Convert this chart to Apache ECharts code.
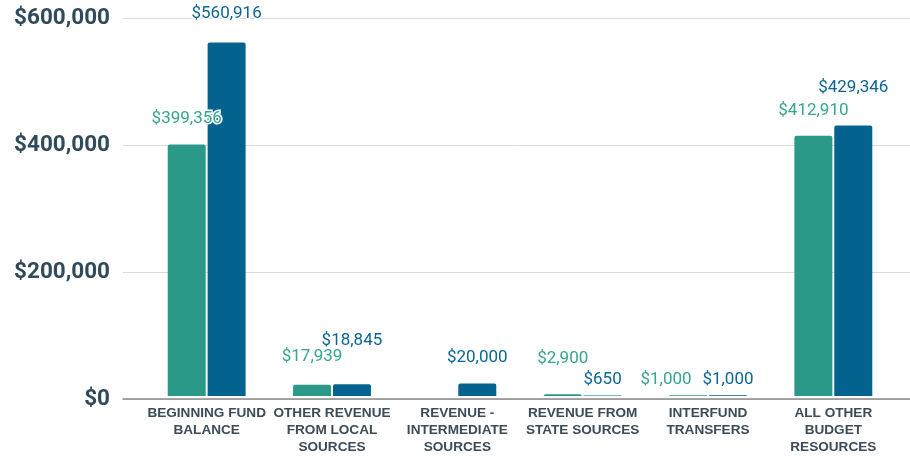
<!DOCTYPE html>
<html>
<head>
<meta charset="utf-8">
<title>Budget resources</title>
<script src="https://cdn.jsdelivr.net/npm/echarts@6/dist/echarts.min.js"></script>
<style>
  html, body { margin: 0; padding: 0; background: #fff; }
  #chart { width: 910px; height: 456px; }
</style>
</head>
<body>
<div id="chart"></div>
<script>
// categories and values
const categories = [
  'BEGINNING FUND\nBALANCE',
  'OTHER REVENUE\nFROM LOCAL\nSOURCES',
  'REVENUE -\nINTERMEDIATE\nSOURCES',
  'REVENUE FROM\nSTATE SOURCES',
  'INTERFUND\nTRANSFERS',
  'ALL OTHER\nBUDGET\nRESOURCES'
]
const tealValues = [399356, 17939, 0, 2900, 1000, 412910]
const blueValues = [560916, 18845, 20000, 650, 1000, 429346]
const yTicks = [0, 200000, 400000, 600000]

// label placement (the source staggers labels to avoid collisions)
const tealLift = [17, 19, 0, 27, 7, 17]
const blueLift = [20, 35, 17, 7, 7, 29]
const tealShift = [0, 0, 0, 0, -22, 0]

const TEAL = '#2a9988'
const BLUE = '#04628f'

const money = v => '$' + Number(v).toLocaleString('en-US')

function buildData(values, lift, shift) {
  return values.map((v, i) => ({
    value: v,
    label: { distance: lift[i], offset: [shift ? shift[i] : 0, 0] }
  }))
}

function barLabel(color) {
  return {
    show: true,
    position: 'top',
    color: color,
    fontFamily: 'Roboto',
    fontSize: 17,
    textBorderColor: '#fff',
    textBorderWidth: 3,
    formatter: p => (p.value ? money(p.value) : '')
  }
}

const chart = echarts.init(document.getElementById('chart'), null, { renderer: 'canvas' })

const yMin = yTicks[0]
const yMax = yTicks[yTicks.length - 1]
const yStep = yTicks[1] - yTicks[0]

const option = {
  animation: false,
  grid: [
    // grid 0: gridlines, y labels and axis line across the full width
    { left: 123, right: 0, top: 18, bottom: 57 },
    // grid 1: the bars
    { left: 144, right: 14, top: 18, bottom: 57 }
  ],
  xAxis: [
    {
      gridIndex: 0,
      type: 'category',
      data: [''],
      axisLine: { show: true, lineStyle: { color: '#8a8a8a', width: 1.5 } },
      axisTick: { show: false },
      axisLabel: { show: false }
    },
    {
      gridIndex: 1,
      type: 'category',
      data: categories,
      axisLine: { show: false },
      axisTick: { show: false },
      axisLabel: {
        interval: 0,
        margin: 9,
        color: '#3b4b57',
        fontFamily: 'Liberation Sans',
        fontWeight: 'bold',
        fontSize: 13.6,
        lineHeight: 17,
        align: 'center'
      }
    }
  ],
  yAxis: [
    {
      gridIndex: 0,
      type: 'value',
      min: yMin,
      max: yMax,
      interval: yStep,
      axisLine: { show: false },
      axisTick: { show: false },
      splitLine: { lineStyle: { color: '#dadada', width: 1 } },
      axisLabel: {
        margin: 13,
        color: '#2f4a5b',
        fontFamily: 'Roboto',
        fontWeight: 'bold',
        fontSize: 22.5,
        formatter: v => money(v)
      }
    },
    {
      gridIndex: 1,
      type: 'value',
      min: yMin,
      max: yMax,
      interval: yStep,
      show: false
    }
  ],
  series: [
    {
      name: 'Teal',
      type: 'bar',
      xAxisIndex: 1,
      yAxisIndex: 1,
      data: buildData(tealValues, tealLift, tealShift),
      barWidth: 38,
      barGap: '5%',
      itemStyle: { color: TEAL, borderRadius: [2, 2, 0, 0] },
      label: barLabel('#35a58e'),
      z: 3
    },
    {
      name: 'Blue',
      type: 'bar',
      xAxisIndex: 1,
      yAxisIndex: 1,
      data: buildData(blueValues, blueLift),
      barWidth: 38,
      itemStyle: { color: BLUE, borderRadius: [2, 2, 0, 0] },
      label: barLabel('#0b6595'),
      z: 2
    }
  ]
}

chart.setOption(option)
</script>
</body>
</html>
